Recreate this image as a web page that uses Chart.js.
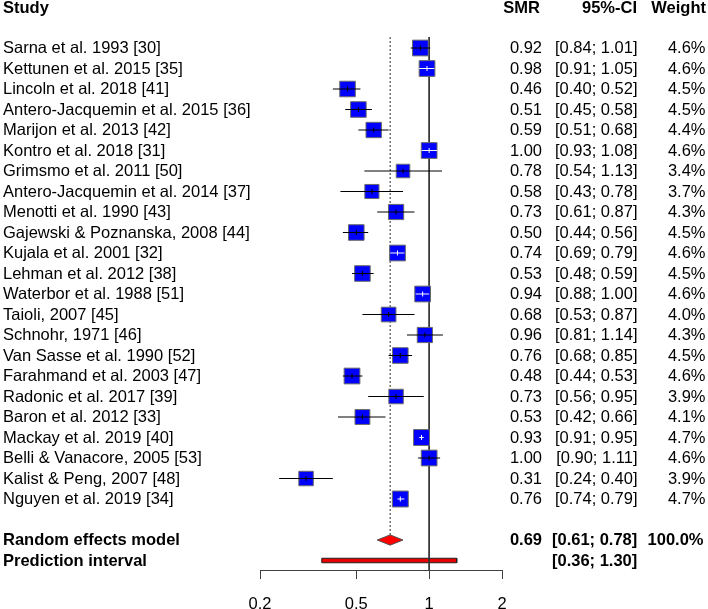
<!DOCTYPE html>
<html><head><meta charset="utf-8">
<script src="https://cdn.jsdelivr.net/npm/chart.js@4.4.0/dist/chart.umd.min.js"></script>
<style>html,body{margin:0;padding:0;background:#fff;overflow:hidden}canvas{display:block}</style>
</head><body>
<canvas id="c" width="708" height="609"></canvas>
<script>
// ---------- data ----------
const headers = ['Study', 'SMR', '95%-CI', 'Weight'];
const studies = [
  'Sarna et al. 1993 [30]', 'Kettunen et al. 2015 [35]', 'Lincoln et al. 2018 [41]',
  'Antero-Jacquemin et al. 2015 [36]', 'Marijon et al. 2013 [42]', 'Kontro et al. 2018 [31]',
  'Grimsmo et al. 2011 [50]', 'Antero-Jacquemin et al. 2014 [37]', 'Menotti et al. 1990 [43]',
  'Gajewski & Poznanska, 2008 [44]', 'Kujala et al. 2001 [32]', 'Lehman et al. 2012 [38]',
  'Waterbor et al. 1988 [51]', 'Taioli, 2007 [45]', 'Schnohr, 1971 [46]',
  'Van Sasse et al. 1990 [52]', 'Farahmand et al. 2003 [47]', 'Radonic et al. 2017 [39]',
  'Baron et al. 2012 [33]', 'Mackay et al. 2019 [40]', 'Belli & Vanacore, 2005 [53]',
  'Kalist & Peng, 2007 [48]', 'Nguyen et al. 2019 [34]'
];
const smr     = [0.92, 0.98, 0.46, 0.51, 0.59, 1.00, 0.78, 0.58, 0.73, 0.50, 0.74, 0.53, 0.94, 0.68, 0.96, 0.76, 0.48, 0.73, 0.53, 0.93, 1.00, 0.31, 0.76];
const ciLower = [0.84, 0.91, 0.40, 0.45, 0.51, 0.93, 0.54, 0.43, 0.61, 0.44, 0.69, 0.48, 0.88, 0.53, 0.81, 0.68, 0.44, 0.56, 0.42, 0.91, 0.90, 0.24, 0.74];
const ciUpper = [1.01, 1.05, 0.52, 0.58, 0.68, 1.08, 1.13, 0.78, 0.87, 0.56, 0.79, 0.59, 1.00, 0.87, 1.14, 0.85, 0.53, 0.95, 0.66, 0.95, 1.11, 0.40, 0.79];
const weights = [4.6, 4.6, 4.5, 4.5, 4.4, 4.6, 3.4, 3.7, 4.3, 4.5, 4.6, 4.5, 4.6, 4.0, 4.3, 4.5, 4.6, 3.9, 4.1, 4.7, 4.6, 3.9, 4.7];
const pooledLabel = 'Random effects model';
const pooledSMR = 0.69;
const pooledCI = [0.61, 0.78];
const pooledWeight = 100.0;
const predLabel = 'Prediction interval';
const predCI = [0.36, 1.30];
const xTicks = [0.2, 0.5, 1, 2];
const nullValue = 1;

// ---------- layout / style ----------
const FONT = '"Liberation Sans", Arial, Helvetica, sans-serif';
const FS = 16.5;
const ROW_TOP = -0.537, ROW_BOTTOM = 25.463;
const POOLED_ROW = studies.length + 1;
const PRED_ROW = studies.length + 2;
const HEADER_ROW = -1.95;
const DIAMOND_H = 0.25;
const BAR_H = 0.11;
const maxW = Math.max(...weights);
const sideFor = w => 15.9 * Math.sqrt(w / maxW);

function ciInside(chart, i) {
  const sx = chart.scales.x;
  if (!sx) return false;
  const w = sx.getPixelForValue(ciUpper[i]) - sx.getPixelForValue(ciLower[i]);
  return w < sideFor(weights[i]);
}

const datasets = [];
// reference line at SMR = 1
datasets.push({
  data: [{x: nullValue, y: ROW_TOP}, {x: nullValue, y: ROW_BOTTOM}],
  showLine: true, borderColor: '#303030', borderWidth: 1, pointRadius: 0, order: 8
});
// dotted line at pooled estimate
datasets.push({
  data: [{x: pooledSMR, y: ROW_TOP}, {x: pooledSMR, y: POOLED_ROW - DIAMOND_H}],
  showLine: true, borderColor: '#303030', borderWidth: 1, borderDash: [2, 2], pointRadius: 0, order: 8
});
// prediction interval bar
datasets.push({
  data: [
    {x: predCI[0], y: PRED_ROW - BAR_H}, {x: predCI[1], y: PRED_ROW - BAR_H},
    {x: predCI[1], y: PRED_ROW + BAR_H}, {x: predCI[0], y: PRED_ROW + BAR_H},
    {x: predCI[0], y: PRED_ROW - BAR_H}
  ],
  showLine: true, fill: 'shape', backgroundColor: '#E60000', borderColor: '#202020',
  borderWidth: 1, pointRadius: 0, order: 9
});
// squares
datasets.push({
  data: smr.map((v, i) => ({x: v, y: i})),
  pointStyle: 'rect', pointRadius: weights.map(w => sideFor(w) / Math.SQRT2),
  pointBackgroundColor: '#0000FF', pointBorderColor: '#6a6a6a', pointBorderWidth: 1, order: 5
});
// confidence interval lines
smr.forEach((v, i) => {
  datasets.push({
    data: [{x: ciLower[i], y: i}, {x: ciUpper[i], y: i}],
    showLine: true, borderWidth: 1, pointRadius: 0,
    borderColor: ctx => ciInside(ctx.chart, i) ? '#ffffff' : '#000000',
    order: 3
  });
});
// estimate tick marks
datasets.push({
  data: smr.map((v, i) => ({x: v, y: i})),
  pointStyle: 'line', rotation: 90, pointRadius: 2.5, pointBorderWidth: 1,
  pointBorderColor: ctx => ciInside(ctx.chart, ctx.dataIndex) ? '#ffffff' : '#000000',
  order: 2
});
// pooled diamond
datasets.push({
  data: [
    {x: pooledCI[0], y: POOLED_ROW}, {x: pooledSMR, y: POOLED_ROW - DIAMOND_H},
    {x: pooledCI[1], y: POOLED_ROW}, {x: pooledSMR, y: POOLED_ROW + DIAMOND_H},
    {x: pooledCI[0], y: POOLED_ROW}
  ],
  showLine: true, fill: 'shape', backgroundColor: '#FF0000', borderColor: '#505050',
  borderWidth: 1, pointRadius: 0, order: 1
});

const textPlugin = {
  id: 'forestText',
  afterDraw(chart) {
    const ctx = chart.ctx, ys = chart.scales.y;
    ctx.save();
    ctx.fillStyle = '#000';
    ctx.textBaseline = 'middle';
    const put = (t, x, r, align, bold) => {
      ctx.font = (bold ? 'bold ' : '') + FS + 'px ' + FONT;
      ctx.textAlign = align;
      ctx.fillText(t, x, ys.getPixelForValue(r) + 0.5);
    };
    put(headers[0], 3, HEADER_ROW, 'left', true);
    put(headers[1], 540, HEADER_ROW, 'right', true);
    put(headers[2], 637, HEADER_ROW, 'right', true);
    put(headers[3], 706, HEADER_ROW, 'right', true);
    studies.forEach((s, i) => {
      put(s, 3, i, 'left', false);
      put(smr[i].toFixed(2), 542, i, 'right', false);
      put('[' + ciLower[i].toFixed(2) + '; ' + ciUpper[i].toFixed(2) + ']', 637.5, i, 'right', false);
      put(weights[i].toFixed(1) + '%', 705.5, i, 'right', false);
    });
    put(pooledLabel, 3, POOLED_ROW, 'left', true);
    put(pooledSMR.toFixed(2), 542, POOLED_ROW, 'right', true);
    put('[' + pooledCI[0].toFixed(2) + '; ' + pooledCI[1].toFixed(2) + ']', 552, POOLED_ROW, 'left', true);
    put(pooledWeight.toFixed(1) + '%', 703.5, POOLED_ROW, 'right', true);
    put(predLabel, 3, PRED_ROW, 'left', true);
    put('[' + predCI[0].toFixed(2) + '; ' + predCI[1].toFixed(2) + ']', 552, PRED_ROW, 'left', true);
    ctx.restore();
  }
};

new Chart(document.getElementById('c'), {
  type: 'scatter',
  data: {datasets},
  options: {
    responsive: false, animation: false, events: [],
    layout: {padding: {left: 260, right: 206, top: 37, bottom: 0}},
    plugins: {legend: {display: false}, tooltip: {enabled: false}},
    scales: {
      x: {
        type: 'logarithmic', min: 0.2, max: 2, position: 'bottom',
        afterBuildTicks: s => { s.ticks = xTicks.map(v => ({value: v})); },
        afterFit: s => { s.height = 39; },
        ticks: {callback: v => String(v), color: '#000', font: {family: FONT, size: FS},
                padding: 16, maxRotation: 0, autoSkip: false},
        grid: {drawOnChartArea: false, tickLength: 9, color: '#404040'},
        border: {display: true, color: '#404040'}
      },
      y: {type: 'linear', reverse: true, min: ROW_TOP, max: ROW_BOTTOM, display: false}
    }
  },
  plugins: [textPlugin]
});
</script>
</body></html>
